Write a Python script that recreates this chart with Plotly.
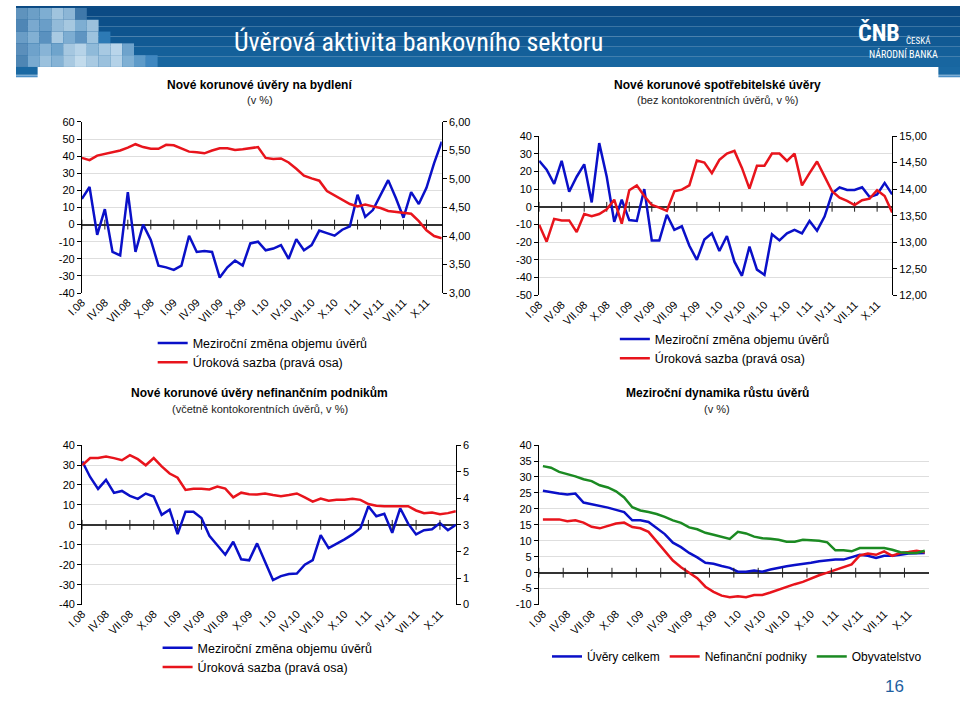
import plotly.graph_objects as go

# ---------------- data ----------------
months = ["I", "II", "III", "IV", "V", "VI", "VII", "VIII", "IX", "X", "XI", "XII"]
years = ["08", "09", "10", "11"]
categories = [f"{m}.{y}" for y in years for m in months]
tick_labels = ["I.08", "IV.08", "VII.08", "X.08", "I.09", "IV.09", "VII.09", "X.09",
               "I.10", "IV.10", "VII.10", "X.10", "I.11", "IV.11", "VII.11", "X.11"]

# Chart 1 - housing loans
bydleni_zmena = [15, 22, -6, 9, -16, -18, 19, -16, 0, -9, -24, -25,
                 -26.5, -24, -6.5, -16, -15.5, -16, -31, -25, -21, -24, -11, -10,
                 -15, -14, -12, -20, -8.5, -15, -12, -3.5, -5, -6.5, -3, -1,
                 17.5, 4.5, 8.5, 17, 26, 15.5, 4, 19, 12, 21.5, 36, 48.5]
bydleni_sazba = [5.37, 5.33, 5.41, 5.44, 5.47, 5.50, 5.55, 5.61, 5.56, 5.53, 5.53, 5.60,
                 5.59, 5.54, 5.48, 5.47, 5.45, 5.50, 5.54, 5.54, 5.51, 5.52, 5.54, 5.56,
                 5.37, 5.35, 5.36, 5.29, 5.18, 5.06, 5.01, 4.97, 4.79, 4.71, 4.64, 4.56,
                 4.52, 4.55, 4.52, 4.49, 4.44, 4.42, 4.41, 4.39, 4.26, 4.10, 4.00, 3.96]

# Chart 2 - consumer loans
spotr_zmena = [26, 21, 13, 26, 8.5, 17, 24, 2.5, 36, 17, -8.5, 4,
               -7.5, -8, 10, -19, -19, -4.5, -13, -11, -22, -30, -18.5, -15,
               -25, -16.5, -31, -39, -22.5, -35.5, -38.5, -15.5, -19, -15, -13, -15,
               -8, -13.5, -5.5, 7.5, 11, 9.5, 9.5, 11, 5.5, 7, 13.5, 7]
spotr_sazba = [13.33, 13.01, 13.44, 13.41, 13.41, 13.19, 13.53, 13.49, 13.53, 13.62, 13.80, 13.35,
               13.98, 14.07, 13.87, 13.70, 13.65, 13.59, 13.96, 13.99, 14.07, 14.54, 14.50, 14.30,
               14.55, 14.67, 14.72, 14.40, 14.01, 14.44, 14.44, 14.67, 14.67, 14.53, 14.67, 14.07,
               14.30, 14.52, 14.24, 13.96, 13.84, 13.78, 13.70, 13.79, 13.82, 13.98, 13.87, 13.56]

# Chart 3 - non-financial corporations
podniky_zmena = [31.8, 24, 18, 22.5, 16, 17, 14.5, 13, 15.7, 14.2, 5, 7.6,
                 -4.7, 6.6, 6.6, 3.4, -5.5, -10.4, -15, -8.5, -17.3, -17.8, -9.3, -18.5,
                 -27.7, -25.7, -24.7, -24.4, -20, -17.7, -5.2, -11.7, -9.6, -7.3, -4.8, -1.7,
                 9.3, 4.3, 5.5, -4, 8.3, 0.6, -4.8, -2.7, -2.2, 0.9, -2.7, 0]
podniky_sazba = [5.24, 5.51, 5.51, 5.57, 5.51, 5.43, 5.62, 5.47, 5.24, 5.51, 5.20, 4.93,
                 4.77, 4.31, 4.36, 4.36, 4.33, 4.44, 4.36, 4.03, 4.21, 4.15, 4.14, 4.18,
                 4.12, 4.08, 4.12, 4.18, 4.03, 3.87, 3.99, 3.91, 3.94, 3.94, 3.98, 3.94,
                 3.78, 3.72, 3.70, 3.70, 3.70, 3.70, 3.54, 3.44, 3.46, 3.40, 3.44, 3.51]

# Chart 4 - year-on-year credit growth
uvery_celkem = [25.7, 25.2, 24.8, 24.5, 24.8, 22, 21.5, 21, 20.4, 19.7, 19, 16.4,
                16.4, 15.9, 13.9, 12.1, 9.4, 8, 6.2, 4.8, 3.1, 2.8, 2.1, 1.5,
                0.3, 0.3, 0.7, 0.3, 1.0, 1.6, 2.0, 2.4, 2.7, 3.1, 3.6, 3.9,
                4.1, 4.1, 4.8, 5.6, 5.3, 4.6, 5.3, 5.3, 5.6, 6.0, 6.1, 6.2]
nefin_podniky = [16.7, 16.7, 16.7, 16.1, 16.4, 15.7, 14.4, 13.9, 14.6, 15.4, 15.7, 14.3,
                 13.9, 12.8, 9.8, 6.7, 3.8, 1.7, 0, -1.7, -4.4, -6, -7.2, -7.7,
                 -7.4, -7.7, -7.0, -7.0, -6.2, -5.3, -4.4, -3.6, -2.9, -1.8, -0.8, 0,
                 0.8, 1.7, 2.6, 5.4, 6.0, 5.6, 6.7, 5.3, 6.2, 6.5, 6.9, 6.4]
obyvatelstvo = [33.4, 32.9, 31.6, 31.0, 30.2, 29.3, 28.7, 27.4, 26.7, 25.5, 23.6, 20.5,
                19.5, 19.0, 18.4, 17.5, 16.4, 15.6, 14.2, 13.6, 12.5, 11.9, 11.3, 10.6,
                12.8, 12.3, 11.3, 10.8, 10.6, 10.3, 9.7, 9.7, 10.3, 10.1, 10.0, 9.5,
                7.0, 7.0, 6.7, 7.7, 7.7, 7.7, 7.7, 7.2, 6.4, 6.2, 6.2, 6.9]

left1_ticks = [60, 50, 40, 30, 20, 10, 0, -10, -20, -30, -40]
left2_ticks = [40, 30, 20, 10, 0, -10, -20, -30, -40, -50]
left3_ticks = [40, 30, 20, 10, 0, -10, -20, -30, -40]
left4_ticks = [40, 35, 30, 25, 20, 15, 10, 5, 0, -5, -10]

name_zmena = "Meziroční změna objemu úvěrů"
name_sazba = "Úroková sazba (pravá osa)"

# ---------------- styling ----------------
BLUE = "#0a10c8"
RED = "#e8141c"
GREEN = "#1b8a22"
FONT = "Liberation Sans, Arial, sans-serif"
NARROW = "Liberation Sans Narrow, Roboto Condensed, Liberation Sans, Arial"
W, H = 960, 702

x = list(range(len(categories)))
tickvals = [categories.index(t) for t in tick_labels]


def px(v):
    return v / W


def py(v):
    return 1 - v / H


fig = go.Figure()


def line(y, xa, ya, color, name, legend):
    fig.add_trace(go.Scatter(
        x=x, y=y, xaxis=xa, yaxis=ya, mode="lines", name=name, legend=legend,
        line=dict(color=color, width=2.5), customdata=categories,
        hovertemplate="%{customdata}: %{y}<extra>" + name + "</extra>"))


def zero_ticks(xa, ya, offset):
    fig.add_trace(go.Scatter(
        x=[v + offset for v in tickvals], y=[0] * len(tickvals), xaxis=xa, yaxis=ya,
        mode="markers", showlegend=False, hoverinfo="skip",
        marker=dict(symbol="line-ns", size=7, line=dict(color="#222", width=1))))


line(bydleni_zmena, "x", "y", BLUE, name_zmena, "legend")
zero_ticks("x", "y", 0)
line(bydleni_sazba, "x", "y2", RED, name_sazba, "legend")

line(spotr_zmena, "x2", "y3", BLUE, name_zmena, "legend2")
zero_ticks("x2", "y3", 0)
line(spotr_sazba, "x2", "y4", RED, name_sazba, "legend2")

line(podniky_zmena, "x3", "y5", BLUE, name_zmena, "legend3")
zero_ticks("x3", "y5", 0)
line(podniky_sazba, "x3", "y6", RED, name_sazba, "legend3")

line(uvery_celkem, "x4", "y7", BLUE, "Úvěry celkem", "legend4")
line(nefin_podniky, "x4", "y7", RED, "Nefinanční podniky", "legend4")
line(obyvatelstvo, "x4", "y7", GREEN, "Obyvatelstvo", "legend4")
zero_ticks("x4", "y7", -0.5)

tickfont = dict(family=FONT, size=11, color="#000")


def xaxis(domain, rng):
    return dict(domain=domain, range=rng, tickvals=tickvals, ticktext=tick_labels,
                tickangle=-45, tickfont=tickfont, showgrid=False, zeroline=False,
                showline=False, ticks="", fixedrange=True)


def yleft(domain, anchor, rng, ticks):
    return dict(domain=domain, anchor=anchor, range=rng, tickvals=ticks,
                ticktext=[str(t) for t in ticks], tickfont=tickfont,
                showline=True, linecolor="#000", linewidth=1, ticks="outside",
                ticklen=4, tickcolor="#000", showgrid=True, gridcolor="#dedede",
                gridwidth=1, zeroline=True, zerolinecolor="#333", zerolinewidth=1.5,
                fixedrange=True)


def yright(overlay, anchor, rng, dtick, fmt):
    return dict(overlaying=overlay, anchor=anchor, side="right", range=rng,
                dtick=dtick, tick0=rng[0], tickformat=fmt, tickfont=tickfont,
                showline=True, linecolor="#000", linewidth=1, ticks="outside",
                ticklen=4, tickcolor="#000", showgrid=False, zeroline=False,
                fixedrange=True)


d1x = [px(67), px(433)]
d1y = [py(292), py(118)]
d2x = [px(532), px(891)]
d2y = [py(294.3), py(132.3)]
d3x = [px(67.3), px(447.3)]
d3y = [py(609), py(446.7)]
d4x = [px(531.7), px(928.3)]
d4y = [py(609), py(446.7)]

legend_common = dict(bgcolor="rgba(0,0,0,0)", font=dict(family=FONT, size=12.5, color="#000"),
                     itemwidth=30, xanchor="left", yanchor="top", tracegroupgap=0,
                     itemclick=False, itemdoubleclick=False)

fig.update_layout(
    width=W, height=H, autosize=False,
    margin=dict(l=0, r=0, t=0, b=0),
    paper_bgcolor="white", plot_bgcolor="rgba(0,0,0,0)",
    separators=", ",
    font=dict(family=FONT, color="#000"),
    xaxis=xaxis(d1x, [0, 47]) | dict(anchor="y"),
    yaxis=yleft(d1y, "x", [-40, 60], left1_ticks),
    yaxis2=yright("y", "x", [3, 6], 0.5, ".2f"),
    xaxis2=xaxis(d2x, [0, 47]) | dict(anchor="y3"),
    yaxis3=yleft(d2y, "x2", [-50, 40], left2_ticks),
    yaxis4=yright("y3", "x2", [12, 15], 0.5, ".2f"),
    xaxis3=xaxis(d3x, [0, 47]) | dict(anchor="y5"),
    yaxis5=yleft(d3y, "x3", [-40, 40], left3_ticks),
    yaxis6=yright("y5", "x3", [0, 6], 1, "d"),
    xaxis4=xaxis(d4x, [-0.5, 47.5]) | dict(anchor="y7"),
    yaxis7=yleft(d4y, "x4", [-10, 40], left4_ticks),
    legend=legend_common | dict(x=px(139), y=py(328)),
    legend2=legend_common | dict(x=px(609), y=py(324)),
    legend3=legend_common | dict(x=px(144), y=py(638)),
    legend4=legend_common | dict(x=px(540), y=py(647), orientation="h",
                                 font=dict(family=FONT, size=12, color="#000")),
    showlegend=True,
)

# ---------------- banner ----------------
shapes = []
banner_colors = ["#0b4a84", "#0c4f89", "#0e548e", "#115a94", "#14609a", "#1866a0"]
n = len(banner_colors)
for i, c in enumerate(banner_colors):
    shapes.append(dict(type="rect", xref="paper", yref="paper", x0=0, x1=1,
                       y0=py(62 * (i + 1) / n), y1=py(62 * i / n),
                       fillcolor=c, line=dict(width=0), layer="below"))
shapes.append(dict(type="rect", xref="paper", yref="paper", x0=0, x1=px(22), y0=py(70), y1=py(62),
                   fillcolor="#1a69a3", line=dict(width=0), layer="below"))
shapes.append(dict(type="rect", xref="paper", yref="paper", x0=px(938), x1=1, y0=py(70), y1=py(62),
                   fillcolor="#1a69a3", line=dict(width=0), layer="below"))
shapes.append(dict(type="line", xref="paper", yref="paper", x0=0, x1=px(22), y0=py(71.5), y1=py(71.5),
                   line=dict(color="#4b8fc6", width=2)))
shapes.append(dict(type="line", xref="paper", yref="paper", x0=px(938), x1=1, y0=py(71.5), y1=py(71.5),
                   line=dict(color="#4b8fc6", width=2)))
sq = 12
mosaic = [
    ["#5f93bd", "#6c9fc7", "#7eaed2", "#a0c4de", "#8cb6d6", "#3f78aa", None, None],
    ["#4f86b5", "#7aa9cf", "#6a9ec8", "#93bbd9", "#a6c8e0", "#7eaed2", "#9cc1dc", None],
    ["#6a9dc6", "#82b0d3", "#5a91bf", "#a9cae2", "#7dadd2", "#5f95c2", "#9dc3de", "#2d7ab5"],
    ["#5b8fbb", "#6ea2cb", "#88b4d6", "#6fa4cc", "#a5c7e0", "#b6d3e8", "#8fbad9", "#a7c9e2", "#b9d5ea", "#6ea3cc"],
    ["#4e86b4", "#79aad0", "#9bc1dd", "#86b3d5", "#a8c9e1", "#c2dbec", "#a9cae2", "#9bc1dd", "#b4d2e8", "#7fb0d4", "#5e9bc9", "#3f87c0"],
]
for r, row in enumerate(mosaic):
    for c, col in enumerate(row):
        if col is None:
            continue
        shapes.append(dict(type="rect", xref="paper", yref="paper",
                           x0=px(c * sq), x1=px(c * sq + sq), y0=py(r * sq + sq + 2), y1=py(r * sq + 2),
                           fillcolor=col, line=dict(width=0), layer="below"))
fig.update_layout(shapes=shapes)

# ---------------- annotations ----------------
ann = []


def text(xp, yp, s, size, color="#000", bold=False, family=FONT, xanchor="center"):
    ann.append(dict(xref="paper", yref="paper", x=px(xp), y=py(yp), text=("<b>%s</b>" % s) if bold else s,
                    showarrow=False, xanchor=xanchor, yanchor="middle",
                    font=dict(family=family, size=size, color=color)))


text(409, 37, "Úvěrová aktivita bankovního sektoru", 26, "white", family=NARROW)
text(901, 27, "ČNB", 24, "white", bold=True, family=NARROW, xanchor="right")
text(903, 35, "ČESKÁ", 9, "white", family=NARROW, xanchor="left")
text(865, 49, "NÁRODNÍ BANKA", 10, "white", family=NARROW, xanchor="left")

text(248, 80.5, "Nové korunové úvěry na bydlení", 12, bold=True)
text(248, 96, "(v %)", 11, "#222")
text(713, 80.5, "Nové korunové spotřebitelské úvěry", 12, bold=True)
text(713, 96, "(bez kontokorentních úvěrů, v %)", 11, "#222")
text(248, 394, "Nové korunové úvěry nefinančním podnikům", 12, bold=True)
text(248, 410, "(včetně kontokorentních úvěrů, v %)", 11, "#222")
text(713, 394, "Meziroční dynamika růstu úvěrů", 12, bold=True)
text(713, 410, "(v %)", 11, "#222")
text(893, 692, "16", 17, "#1f5f9f")
fig.update_layout(annotations=ann)

fig.write_html(
    "out.html",
    config={"displayModeBar": False},
    post_script="document.body.style.margin='0';document.body.style.padding='0';"
                "document.body.style.overflow='hidden';",
)
